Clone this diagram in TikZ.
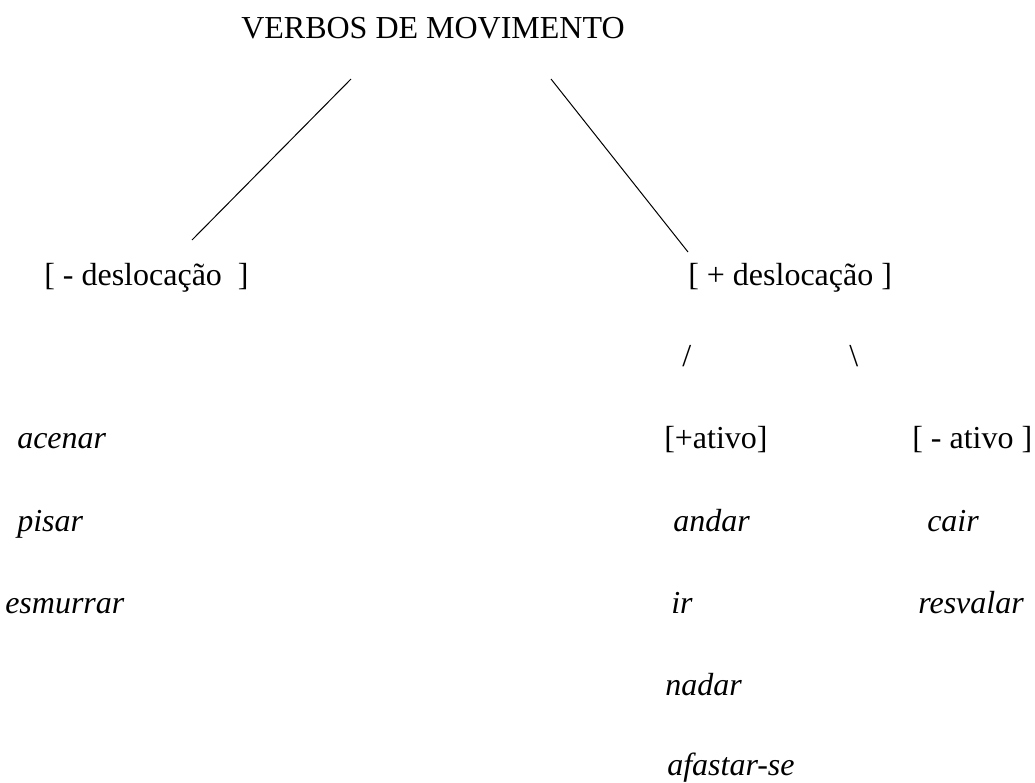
\documentclass[tikz,border=0pt]{standalone}
\usepackage{fontspec}
\setmainfont{Liberation Serif}[
    UprightFont=*,
    ItalicFont=* Italic,
    BoldFont=* Bold]
\usetikzlibrary{positioning}

\begin{document}
\begin{tikzpicture}[x=0.75pt, y=-0.75pt,
    every node/.style={inner sep=0pt, anchor=base west, font=\fontsize{24}{28}\selectfont},
    verb/.style={font=\fontsize{24}{28}\selectfont\itshape}]
    \useasboundingbox (0,0) rectangle (1035,782);
    \node (raiz) at (241,38) {VERBOS DE MOVIMENTO};
    \node (menos) at (44,285) {[ - deslocação\ \ ]};
    \node (mais) at (688,285) {[ + deslocação ]};
    \coordinate (r1) at (351,79);
    \coordinate (m1) at (192,240);
    \coordinate (r2) at (551,79);
    \coordinate (m2) at (688,252);
    \draw[line width=0.75pt] (r1) -- (m1);
    \draw[line width=0.75pt] (r2) -- (m2);
    \node (barra) at (682,366) {/};
    \node (contra) at (849,366) {\textbackslash};
    \node (ativo) at (664,448) {[+ativo]};
    \node (inativo) at (912,448) {[ - ativo ]};
    \node[verb] (acenar) at (17,448) {acenar};
    \node[verb] (pisar) at (17,531) {pisar};
    \node[verb] (esmurrar) at (5,613) {esmurrar};
    \node[verb] (andar) at (673,531) {andar};
    \node[verb] (ir) at (671,613) {ir};
    \node[verb] (nadar) at (665,695) {nadar};
    \node[verb] (afastar) at (667,775) {afastar-se};
    \node[verb] (cair) at (927,531) {cair};
    \node[verb] (resvalar) at (918,613) {resvalar};
\end{tikzpicture}
\end{document}
